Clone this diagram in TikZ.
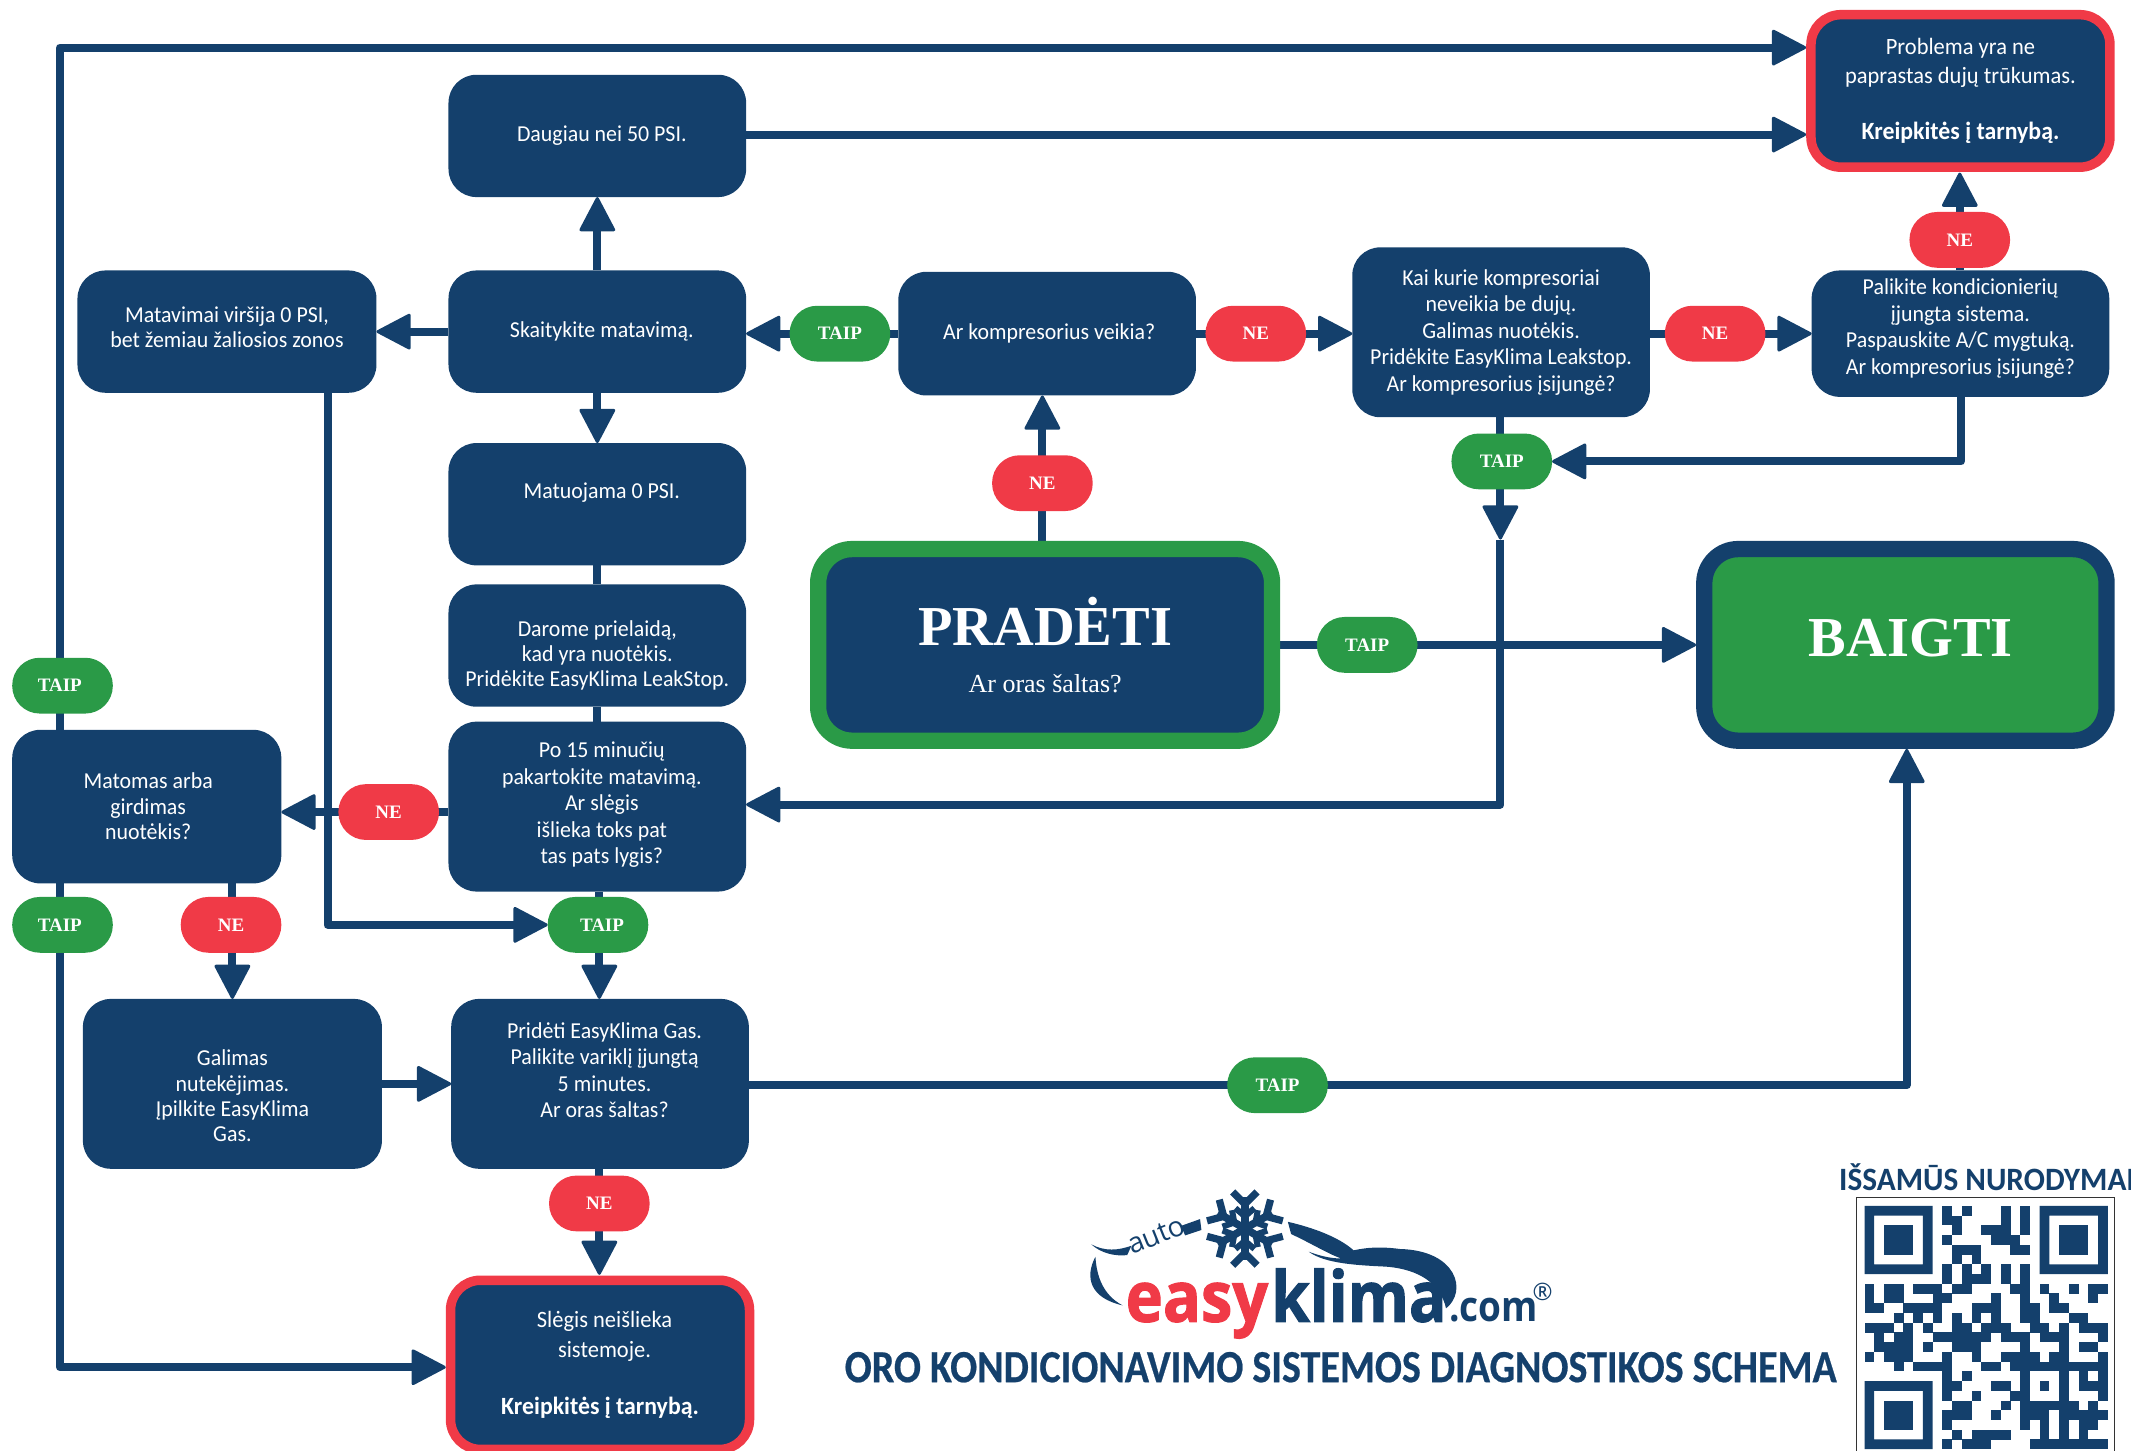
\documentclass[tikz,border=0pt]{standalone}
\usepackage{fontspec}
\setmainfont{Carlito}[FakeStretch=0.96]
\newfontfamily\titlefont{Carlito}[FakeStretch=0.87,BoldFeatures={FakeBold=0.5}]
\newfontfamily\serifx{Liberation Serif}
\newfontfamily\logofont{Open Sans}
\newfontfamily\logob[BoldFeatures={FakeBold=1.6}]{Open Sans}
\usetikzlibrary{arrows.meta,backgrounds}
\definecolor{navy}{HTML}{14406C}
\definecolor{redx}{HTML}{F03A47}
\definecolor{greenx}{HTML}{2A9A47}
\newcommand\sx{\hspace*{4.5pt}}
\newcommand\kreip{{\bfseries\fontsize{12.4}{14}\selectfont Kreipkitės į tarnybą.}}
\tikzset{
  x=0.6795pt,y=-0.6795pt,
  box/.style={fill=navy,text=white,rounded corners=14pt,inner sep=0pt,outer sep=0pt,align=center,
    font=\fontsize{11.4}{13.25}\selectfont},
  redbox/.style={draw=redx,line width=4.75pt,rounded corners=15pt,font=\fontsize{11.7}{14.3}\selectfont},
  bigbox/.style={line width=8.15pt,rounded corners=17pt},
  pill/.style={rounded corners=13.8pt,text=white,inner sep=0pt,outer sep=0pt,minimum width=50.3pt,minimum height=27.9pt,
    font=\serifx\bfseries\fontsize{9.5}{12}\selectfont},
  taip/.style={pill,fill=greenx},
  ne/.style={pill,fill=redx},
  wire/.style={draw=navy,line width=4pt,line join=round},
  arr/.style={wire,-{Triangle[length=18pt,width=18.5pt,round,line width=1.5pt]}},
}
\newcommand\bx[7][]{\node[box,#1,minimum width={(#4-#3)*0.6795pt},minimum height={(#6-#5)*0.6795pt}] (#2) at ({(#3+#4)/2},{(#5+#6)/2}) {#7};}
\begin{document}
\begin{tikzpicture}
\useasboundingbox (0,0) rectangle (1568,1067.6);
% boxes
\bx{daug}{330}{549}{55}{145}{\sx Daugiau nei 50 PSI.}
\bx{skait}{330}{549}{199}{289}{\sx Skaitykite matavimą.}
\bx{matav}{57}{277}{199}{289}{Matavimai viršija 0 PSI,\\[-0.6pt]bet žemiau žaliosios zonos\rule[-4.5pt]{0pt}{4.5pt}}
\bx{matuo}{330}{549}{326}{416}{\sx Matuojama 0 PSI.\rule[-13.5pt]{0pt}{13.5pt}}
\bx{darome}{330}{549}{430}{520}{\rule{0pt}{18pt}Darome prielaidą,\\[-0.8pt]kad yra nuotėkis.\\[-0.8pt]Pridėkite EasyKlima LeakStop.}
\bx{po}{330}{549}{531}{656}{\sx Po 15 minučių\\\sx pakartokite matavimą.\\\sx Ar slėgis\\\sx išlieka toks pat\\\sx tas pats lygis?\rule[-3.5pt]{0pt}{3.5pt}}
\bx{mat}{9}{207}{537}{650}{\hspace*{1.4pt}Matomas arba\\[-0.5pt]\hspace*{1.4pt}girdimas\\[-0.5pt]\hspace*{1.4pt}nuotėkis?}
\bx{gal}{61}{281}{735}{860}{\rule{0pt}{20pt}Galimas\\[-0.6pt]nutekėjimas.\\[-0.6pt]Įpilkite EasyKlima\\[-0.6pt]Gas.}
\bx{prid}{332}{551}{735}{860}{\sx Pridėti EasyKlima Gas.\\\sx Palikite variklį įjungtą\\\sx 5 minutes.\\\sx Ar oras šaltas?\rule[-14pt]{0pt}{14pt}}
\bx[redbox]{sleg}{331.5}{551.5}{942}{1066.5}{\sx Slėgis neišlieka\\[0.7pt]\sx sistemoje.\\[14.5pt]\kreip}
\bx{ark}{661}{880}{200}{291}{\hspace*{2pt}Ar kompresorius veikia?}
\bx{kai}{995}{1214}{182}{307}{Kai kurie kompresoriai\\neveikia be dujų.\\Galimas nuotėkis.\\Pridėkite EasyKlima Leakstop.\\Ar kompresorius įsijungė?}
\bx{pal}{1333}{1552}{199}{292}{Palikite kondicionierių\\įjungta sistema.\\Paspauskite A/C mygtuką.\\Ar kompresorius įsijungė?\rule[-7pt]{0pt}{7pt}}
\bx[redbox]{prob}{1332.5}{1552.5}{10.8}{123}{Problema yra ne\\paprastas dujų trūkumas.\\[14pt]\kreip}
\bx[bigbox,draw=greenx]{start}{602}{936}{404}{545}{{\serifx\bfseries\fontsize{28.2}{30}\selectfont PRADĖTI}\\[10pt]{\serifx\fontsize{13}{14}\selectfont Ar oras šaltas?}}
\bx[bigbox,draw=navy,fill=greenx]{end}{1254}{1550}{404}{545}{\hspace*{5.4pt}{\serifx\bfseries\fontsize{28.2}{30}\selectfont BAIGTI}\rule[-7.4pt]{0pt}{7.4pt}}
% pills
\node[taip] (pA) at (618,245.5) {TAIP};
\node[ne] (pB) at (924,245.5) {NE};
\node[ne] (pC) at (1262,245.5) {NE};
\node[ne] (pD) at (1442,176.5) {NE};
\node[taip] (pE) at (1105,339.5) {TAIP};
\node[ne] (pF) at (767,355.5) {NE};
\node[taip] (pG) at (1006,474.5) {TAIP};
\node[taip] (pH) at (46,504.5) {TAIP\hspace*{2.7pt}};
\node[ne] (pI) at (286,597.5) {NE};
\node[taip] (pJ) at (46,680.5) {TAIP\hspace*{2.7pt}};
\node[ne] (pK) at (170,680.5) {NE};
\node[taip] (pL) at (440,680.5) {\hspace*{4pt}TAIP};
\node[taip] (pM) at (940,798.5) {TAIP};
\node[ne] (pN) at (441,885.5) {NE};
% free ends
\coordinate (probA) at (1329,35);
\coordinate (probB) at (1329,99);
\coordinate (matTop) at (44,537);
\coordinate (matBot) at (44,650);
\coordinate (slegA) at (328,1006);
\coordinate (matavB) at (241,289);
\coordinate (midTip) at (1104,397);
\coordinate (kaiB) at (1104,307);
\coordinate (poA) at (549,592);
\coordinate (endB) at (1403,551);
\coordinate (endA) at (1248,474.5);
\coordinate (palB) at (1443,292);
\coordinate (probC) at (1442,127);
\coordinate (matR) at (171,650);
\coordinate (galT) at (171,735);
\coordinate (slegT) at (441,938);
% connectors
\begin{pgfonlayer}{background}
\draw[arr] (matTop) |- (probA);
\draw[arr] (daug.east |- probB) -- (probB);
\draw[arr] (skait) -- (daug);
\draw[arr] (skait.west) -- (matav.east |- skait.west);
\draw[arr] (skait) -- (matuo);
\draw[wire] (matuo) -- (darome);
\draw[wire] (darome) -- (po);
\draw[arr] (ark.west |- pA) -- (skait.east |- pA);
\draw[arr] (ark.east |- pB) -- (kai.west |- pB);
\draw[arr] (kai.east |- pC) -- (pal.west |- pC);
\draw[arr] (pal.north -| probC) -- (probC);
\draw[arr] (palB) |- (pE.east);
\draw[arr] (kaiB) -- (midTip);
\draw[arr] (midTip) |- (poA);
\draw[arr] (start.north -| pF) -- (ark.south -| pF);
\draw[arr] (start.east |- pG) -- (endA);
\draw[arr] (prid.east |- pM) -| (endB);
\draw[arr] (po.west |- pI) -- (mat.east |- pI);
\draw[arr] (matBot) |- (slegA);
\draw[arr] (matR) -- (galT);
\draw[arr] (gal.east) -- (prid.west |- gal.east);
\draw[arr] (prid.south -| slegT) -- (slegT);
\draw[arr] (matavB) |- (pL.west);
\draw[arr] (po.south -| pN) -- (prid.north -| pN);
\end{pgfonlayer}
% title
\node[text=navy,font=\titlefont\bfseries\fontsize{23}{23}\selectfont,inner sep=0pt,anchor=center] (title) at (986.5,1006) {ORO KONDICIONAVIMO SISTEMOS DIAGNOSTIKOS SCHEMA};
\node[text=navy,font=\bfseries\fontsize{16.3}{17}\selectfont,inner sep=0pt,anchor=west] (qrt) at (1353,866) {IŠSAMŪS NURODYMAI};
% QR
\draw[line width=0.7pt,draw=black!80,fill=white] (1366,881) rectangle (1556,1090);
\begin{scope}[shift={(1371.9,887.3)},x=4.865pt,y=-4.865pt]
\foreach \a/\b in {0/0,18/0,0/18}{
  \fill[navy,even odd rule] (\a,\b) rectangle +(7,7) (\a+1,\b+1) rectangle +(5,5);
  \fill[navy] (\a+2,\b+2) rectangle +(3,3);
}
\foreach \r/\cs in {
0/{8,10,14,16},
1/{8,9,14,16},
2/{9,12,13,14,16},
3/{8,13,14,15},
4/{9,10,11,15,16},
5/{9,11},
6/{8,10,12,14,16},
7/{8,10,11,12,14,16},
8/{0,2,3,5,6,7,9,10,15,16,18,21,23,24},
9/{0,2,3,7,8,13,16,19,23},
10/{0,1,4,5,6,7,11,12,13,16,17,19,20},
11/{3,5,7,9,11,13,16,17,21,22},
12/{0,1,2,4,6,9,10,12,13,14,17,18,20,22,23,24},
13/{1,3,4,7,8,9,10,11,12,14,15,16,18,19,20,24},
14/{1,2,3,4,6,9,10,11,16,20,22,23},
15/{0,2,3,4,8,11,14,15,16,17,19,20,24},
16/{3,5,6,7,8,12,13,15,16,17,18,19,20,21,22,23,24},
17/{8,10,16,20,22,24},
18/{8,9,13,14,16,18,20,22,23,24},
19/{8,11,15,16,20,24},
20/{9,10,14,16,17,18,19,20,21,23},
21/{8,9,10,13,16,17,18,20,21,22,23,24},
22/{8,16,18,20,22,23},
23/{9,11,12,13,14,18,20,22},
24/{8,10,11,12,17,18,19,20,21,22,23,24}}{
  \foreach \c in \cs { \fill[navy] (\c,\r) rectangle +(1.01,1.01); }
}
\end{scope}
% logo
\begin{scope}[shift={(916,904)}]
\foreach \ang in {0,60,120}{
  \begin{scope}[rotate=\ang]
    \draw[navy,line width=3.8pt] (0,-23) -- (0,23);
    \foreach \s in {1,-1}{
      \draw[navy,line width=3.6pt,line cap=butt] (-9,{\s*27}) -- (0,{\s*18}) -- (9,{\s*27});
      \draw[navy,line width=3pt] (-7,{\s*15}) -- (0,{\s*9}) -- (7,{\s*15});
    }
  \end{scope}
}
\end{scope}
\fill[navy] (803,915.6) .. controls (813,921) and (823,920) .. (832.5,916.6) -- (829.4,923.5) .. controls (820,924.5) and (810,922) .. cycle;
\fill[navy] (869,902) -- (883,897) -- (884,905) -- (872,909) -- cycle;
\node[text=navy,font=\logofont\fontsize{14}{14}\selectfont,rotate=22,inner sep=0pt] (auto) at (851,909) {auto};
\fill[navy] (806,924.7) .. controls (798,940) and (802,955) .. (826,960.5) .. controls (812,953) and (807,940) .. cycle;
\fill[navy] (947.6,899) -- (950,908) .. controls (965,915) and (978,923) .. (987,926) .. controls (979,926) and (971,924) .. (963,921) .. controls (975,930) and (1000,931) .. (1020,932) .. controls (1045,934) and (1060,945) .. (1064,962.7) .. controls (1080,950) and (1072,920) .. (1030,919) .. controls (1015,917) and (1005,918) .. (996,920) .. controls (985,910) and (965,903) .. cycle;
\node[text=redx,font=\logob\bfseries\fontsize{35}{35}\selectfont,inner sep=0pt,anchor=base west] (easy) at (828,972.5) {\scalebox{0.9}[1]{easy}};
\node[text=navy,font=\logob\bfseries\fontsize{35}{35}\selectfont,inner sep=0pt,anchor=base west] (klima) at (935,972.5) {\scalebox{0.89}[1]{klima}};
\node[text=navy,font=\logofont\bfseries\fontsize{21}{21}\selectfont,inner sep=0pt,anchor=base west] (com) at (1066,972.5) {\scalebox{0.88}[1]{.com}};
\node[text=navy,font=\logofont\fontsize{12}{12}\selectfont,inner sep=0pt] (reg) at (1135,950.5) {®};
\end{tikzpicture}
\end{document}
